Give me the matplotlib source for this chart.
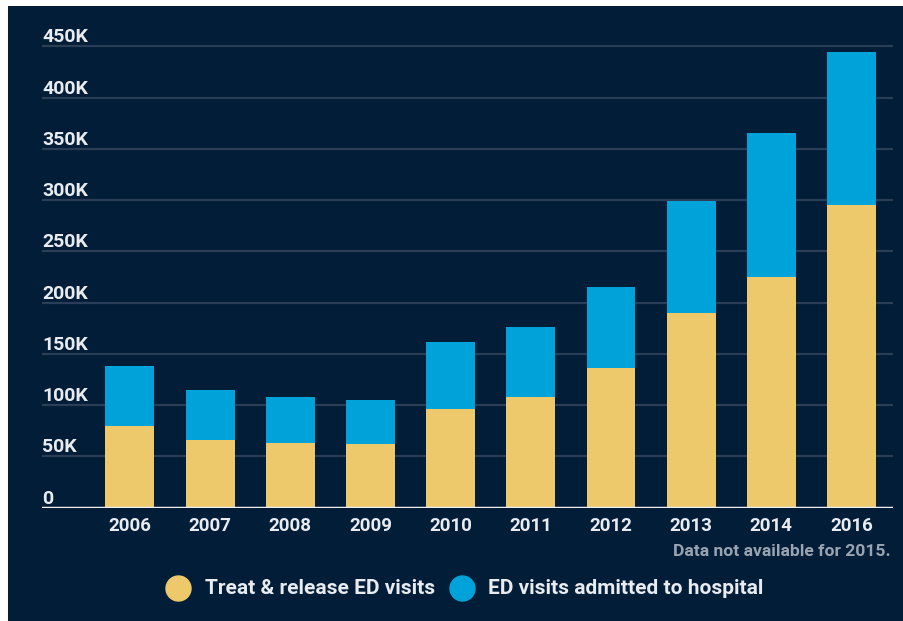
"""Stacked bar chart of ED visits by year (treat & release vs admitted)."""

import matplotlib
matplotlib.use("Agg")  # no screen in the sandbox
import matplotlib.pyplot as plt
import matplotlib.transforms as mtransforms
from matplotlib.lines import Line2D
from matplotlib.patches import Rectangle

# Data (thousands of visits)
years = ["2006", "2007", "2008", "2009", "2010", "2011", "2012", "2013", "2014", "2016"]
treat_release = [80, 66, 63, 62, 96, 108, 136, 190, 225, 295]
admitted = [58, 49, 45, 43, 66, 68, 79, 109, 141, 150]
y_ticks = [0, 50, 100, 150, 200, 250, 300, 350, 400, 450]
y_tick_labels = ["0", "50K", "100K", "150K", "200K", "250K", "300K", "350K", "400K", "450K"]
legend_labels = ["Treat & release ED visits", "ED visits admitted to hospital"]
footnote = "Data not available for 2015."

NAVY = "#021d37"
YELLOW = "#edc96b"
BLUE = "#00a3d9"
GRID = "#2a3f57"
TEXT = "#e8ebef"
NOTE = "#9aa4b0"

W, H = 904, 621
plt.rcParams["font.family"] = ["Roboto", "DejaVu Sans"]

fig = plt.figure(figsize=(W / 100, H / 100), dpi=100, facecolor="white")
# navy panel; a thin white strip is left at top and left, as in the source
fig.add_artist(Rectangle((8 / W, 0), 1, (H - 6) / H, transform=fig.transFigure,
                         facecolor=NAVY, edgecolor="none", zorder=0))

# axes placed in pixel terms: x from 42 to 893, zero line at y=507.7
ax_left, ax_right = 42 / W, 893 / W
ax_bottom = (H - 507.7) / H
px_per_k = 461.3 / 450
y_top = 460
ax = fig.add_axes([ax_left, ax_bottom, ax_right - ax_left, y_top * px_per_k / H])
ax.set_facecolor("none")

x = list(range(len(years)))
ax.bar(x, treat_release, width=0.61, color=YELLOW, linewidth=0, zorder=3)
ax.bar(x, admitted, width=0.61, bottom=treat_release, color=BLUE, linewidth=0, zorder=3)

ax.set_xlim(-1.097, 9.518)
ax.set_ylim(0, y_top)

# horizontal gridlines, white baseline
for t in y_ticks[1:]:
    ax.axhline(t, color=GRID, lw=1.6, zorder=1)
ax.axhline(0, color="#eeeeee", lw=2.5, zorder=4)

for s in ax.spines.values():
    s.set_visible(False)
ax.set_yticks([])
ax.set_xticks(x)
ax.set_xticklabels(years, color=TEXT, fontsize=13.5, fontweight="bold")
ax.tick_params(axis="x", length=0, pad=7)

# y labels sit left-aligned just above each gridline
lab_tr = mtransforms.offset_copy(ax.get_yaxis_transform(), fig=fig, x=0, y=4, units="dots")
for t, lab in zip(y_ticks, y_tick_labels):
    ax.text(0, t, lab, transform=lab_tr, ha="left", va="baseline",
            color=TEXT, fontsize=14, fontweight="bold")

# footnote under the last year labels
fig.text(890.5 / W, (H - 556) / H, footnote, ha="right", va="baseline",
         color=NOTE, fontsize=12.6, fontweight="bold")

# legend drawn by hand: dot + label
legend_items = [(178, 205, YELLOW), (462, 488, BLUE)]
for (cx, tx, col), lab in zip(legend_items, legend_labels):
    fig.add_artist(Line2D([cx / W], [(H - 587.5) / H], marker="o", markersize=18,
                          color=col, linestyle="none", transform=fig.transFigure))
    fig.text(tx / W, (H - 594) / H, lab, ha="left", va="baseline",
             color=TEXT, fontsize=15, fontweight="bold")

fig.savefig("out.png", dpi=100, facecolor=fig.get_facecolor())
plt.close(fig)
